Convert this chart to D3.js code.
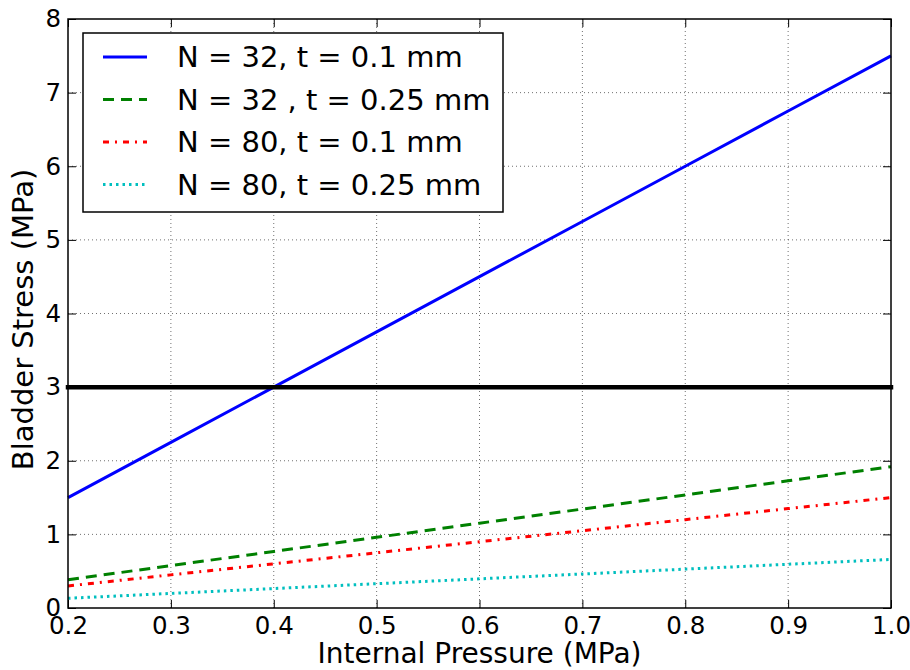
<!DOCTYPE html>
<html>
<head>
<meta charset="utf-8">
<script src="https://cdn.jsdelivr.net/npm/d3@7"></script>
<style>
    body { margin: 0; background: #fff; }
    text { font-family: "DejaVu Sans", sans-serif; fill: #000; }
</style>
</head>
<body>
<script>
// values
const pressure = [0.2, 0.3, 0.4, 0.5, 0.6, 0.7, 0.8, 0.9, 1.0];
const stressN32t01 = [1.5, 2.25, 3.0, 3.75, 4.5, 5.25, 6.0, 6.75, 7.5];
const stressN32t025 = [0.384, 0.576, 0.768, 0.96, 1.152, 1.344, 1.536, 1.728, 1.92];
const stressN80t01 = [0.3, 0.45, 0.6, 0.75, 0.9, 1.05, 1.2, 1.35, 1.5];
const stressN80t025 = [0.132, 0.198, 0.264, 0.33, 0.396, 0.462, 0.528, 0.594, 0.66];
const limitStress = 3;

const seriesNames = ["N = 32, t = 0.1 mm", "N = 32 , t = 0.25 mm", "N = 80, t = 0.1 mm", "N = 80, t = 0.25 mm"];
const seriesValues = [stressN32t01, stressN32t025, stressN80t01, stressN80t025];
const seriesColors = ["#0000ff", "#008000", "#ff0000", "#00bfbf"];
const seriesDash = [null, "11,7", "6,6,2,6", "2.5,4"];

const xTicks = [0.2, 0.3, 0.4, 0.5, 0.6, 0.7, 0.8, 0.9, 1.0];
const yTicks = [0, 1, 2, 3, 4, 5, 6, 7, 8];

const width = 910, height = 670;
const margin = {top: 19, right: 19, bottom: 62, left: 68};

const svg = d3.select("body").append("svg")
    .attr("width", width)
    .attr("height", height);

const x = d3.scaleLinear().domain([0.2, 1.0]).range([margin.left, width - margin.right]);
const y = d3.scaleLinear().domain([0, 8]).range([height - margin.bottom, margin.top]);

// grid
const grid = svg.append("g").attr("stroke", "#000").attr("stroke-width", 0.8)
    .attr("stroke-dasharray", "1,3").attr("opacity", 0.7);
grid.selectAll("line.gx").data(xTicks.slice(1, -1)).join("line")
    .attr("x1", d => x(d)).attr("x2", d => x(d))
    .attr("y1", y(0)).attr("y2", y(8));
grid.selectAll("line.gy").data(yTicks.slice(1, -1)).join("line")
    .attr("y1", d => y(d)).attr("y2", d => y(d))
    .attr("x1", x(0.2)).attr("x2", x(1.0));

// series
const line = d3.line().x((d, i) => x(pressure[i])).y(d => y(d));
svg.append("g").selectAll("path").data(seriesValues).join("path")
    .attr("d", d => line(d))
    .attr("fill", "none")
    .attr("stroke", (d, i) => seriesColors[i])
    .attr("stroke-width", 3)
    .attr("stroke-dasharray", (d, i) => seriesDash[i]);

// limit line
svg.append("line")
    .attr("x1", x(0.2)).attr("x2", x(1.0))
    .attr("y1", y(limitStress)).attr("y2", y(limitStress))
    .attr("stroke", "#000").attr("stroke-width", 4.5)
    .attr("stroke-linecap", "square");

// axes, ticks inside on all four sides
const tickLen = 8;
const xAxisB = d3.axisBottom(x).tickValues(xTicks).tickFormat(d3.format(".1f")).tickSizeInner(-tickLen).tickSizeOuter(0).tickPadding(9);
const xAxisT = d3.axisTop(x).tickValues(xTicks).tickFormat("").tickSizeInner(-tickLen).tickSizeOuter(0);
const yAxisL = d3.axisLeft(y).tickValues(yTicks).tickFormat(d3.format("d")).tickSizeInner(-tickLen).tickSizeOuter(0).tickPadding(7);
const yAxisR = d3.axisRight(y).tickValues(yTicks).tickFormat("").tickSizeInner(-tickLen).tickSizeOuter(0);

function styleAxis(g) {
    g.select(".domain").remove();
    g.selectAll(".tick line").attr("stroke", "#000").attr("stroke-width", 1);
    g.selectAll(".tick text").attr("font-size", 24.5).attr("font-family", "DejaVu Sans");
}
svg.append("g").attr("transform", `translate(0,${y(0)})`).call(xAxisB).call(styleAxis);
svg.append("g").attr("transform", `translate(0,${y(8)})`).call(xAxisT).call(styleAxis);
svg.append("g").attr("transform", `translate(${x(0.2)},0)`).call(yAxisL).call(styleAxis);
svg.append("g").attr("transform", `translate(${x(1.0)},0)`).call(yAxisR).call(styleAxis);

// frame
svg.append("rect")
    .attr("x", x(0.2)).attr("y", y(8))
    .attr("width", x(1.0) - x(0.2)).attr("height", y(0) - y(8))
    .attr("fill", "none").attr("stroke", "#000").attr("stroke-width", 1.5);

// axis labels
svg.append("text")
    .attr("x", (x(0.2) + x(1.0)) / 2).attr("y", 663)
    .attr("text-anchor", "middle").attr("font-size", 28)
    .text("Internal Pressure (MPa)");
svg.append("text")
    .attr("transform", `translate(33,${(y(0) + y(8)) / 2 + 6}) rotate(-90)`)
    .attr("text-anchor", "middle").attr("font-size", 29)
    .text("Bladder Stress (MPa)");

// legend
const legend = svg.append("g");
legend.append("rect")
    .attr("x", 83).attr("y", 33).attr("width", 420).attr("height", 179)
    .attr("fill", "#fff").attr("stroke", "#000").attr("stroke-width", 1.5);
const rows = legend.selectAll("g.row").data(seriesNames).join("g")
    .attr("transform", (d, i) => `translate(0,${57 + i * 42.5})`);
rows.append("line")
    .attr("x1", 103).attr("x2", 147).attr("y1", 0).attr("y2", 0)
    .attr("stroke", (d, i) => seriesColors[i])
    .attr("stroke-width", 3)
    .attr("stroke-dasharray", (d, i) => seriesDash[i]);
rows.append("text")
    .attr("x", 177).attr("y", 0).attr("dy", "0.35em")
    .attr("font-size", 29)
    .text(d => d);
</script>
</body>
</html>
